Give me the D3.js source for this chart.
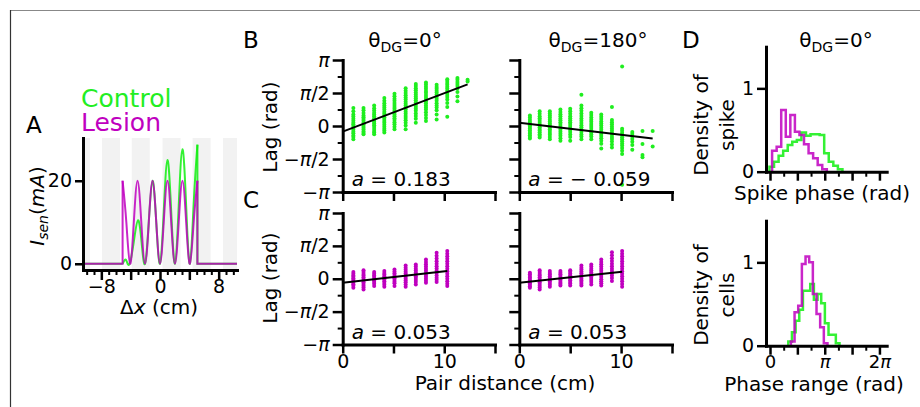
<!DOCTYPE html>
<html>
<head>
<meta charset="utf-8">
<script src="https://cdn.jsdelivr.net/npm/d3@7"></script>
<style>
body { margin: 0; background: #fff; }
svg text { font-family: "DejaVu Sans", sans-serif; }
</style>
</head>
<body>
<svg id="fig" width="920" height="407"></svg>
<script>
"use strict";

const PI = Math.PI;
const GREEN = "#1fee1f";
const PURPLE = "#bf00bf";

// ---- panel A : sensory input current vs position ----
const bandStart = [-12.0, -7.9, -3.85, 0.35, 4.45, 8.6];
const bandEnd = [-9.55, -5.45, -1.4, 2.8, 6.9, 11.05];
const lesionX = [-5.1, -4.59, -4.08, -3.57, -3.06, -2.55, -2.04, -1.53, -1.02, -0.51, 0, 0.51, 1.02, 1.53, 2.04, 2.55, 3.06, 3.57, 4.08, 4.59, 5.1];
const lesionI = [20, 10, 0, 10, 20, 10, 0, 10, 20, 10, 0, 10, 20, 10, 0, 10, 20, 10, 0, 10, 20];
const controlX = [-5.1, -4.75, -4.5, -4.15, -3.6, -3.0, -2.5, -2.04, -1.53, -1.02, -0.51, 0, 0.51, 1.02, 1.53, 2.04, 2.55, 3.06, 3.57, 4.08, 4.59, 5.1];
const controlI = [0, 1.0, 0.4, 0, 5, 10.5, 5, 0, 10, 20, 10, 0, 12.5, 25, 12.5, 0, 13.8, 27.6, 13.8, 0, 14.4, 28.7];

// ---- panels B, C : phase lag vs pair distance ----
const distB0 = [1.05, 2.05, 3.1, 4.1, 5.1, 6.2, 7.2, 8.2, 9.25, 10.3, 11.3, 12.3];
const lagB0 = [
  [0.86, 0.7, 0.55, 0.45, 0.35, 0.25, 0.15, 0.08, 0.0, -0.1, -0.18, -0.27, -0.35, -0.45, -0.52, -0.63],
  [0.86, 0.75, 0.62, 0.5, 0.42, 0.33, 0.25, 0.16, 0.08, 0.0, -0.08, -0.17, -0.26, -0.33, -0.39],
  [0.97, 0.85, 0.74, 0.63, 0.55, 0.46, 0.37, 0.28, 0.2, 0.12, 0.04, -0.05, -0.14, -0.24, -0.31, -0.39],
  [1.33, 1.2, 1.08, 0.97, 0.88, 0.78, 0.68, 0.6, 0.5, 0.42, 0.33, 0.24, 0.15, 0.06, -0.04, -0.13, -0.22, -0.31],
  [1.54, 1.42, 1.3, 1.2, 1.1, 1.0, 0.9, 0.82, 0.73, 0.64, 0.55, 0.46, 0.37, 0.28, 0.18, 0.08, -0.03, -0.16],
  [1.8, 1.68, 1.57, 1.46, 1.36, 1.26, 1.16, 1.06, 0.97, 0.88, 0.78, 0.68, 0.58, 0.48, 0.38, 0.27, 0.15, 0.02, -0.16],
  [2.0, 1.9, 1.8, 1.7, 1.6, 1.5, 1.41, 1.32, 1.22, 1.12, 1.02, 0.92, 0.82, 0.72, 0.6, 0.48, 0.35, 0.16],
  [2.07, 1.97, 1.87, 1.77, 1.67, 1.58, 1.48, 1.38, 1.28, 1.18, 1.08, 0.98, 0.88, 0.78, 0.66, 0.52, 0.38, 0.24],
  [1.96, 1.86, 1.77, 1.68, 1.59, 1.5, 1.4, 1.3, 1.2, 1.08, 0.98, 0.88, 0.75, 0.55, 0.31],
  [2.23, 2.14, 2.05, 1.96, 1.87, 1.78, 1.68, 1.58, 1.48, 1.38, 1.26, 1.1, 0.9, 0.44],
  [2.28, 2.2, 2.1, 2.0, 1.9, 1.78, 1.62, 1.4, 1.18],
  [2.2, 2.12]
];
const fitB0 = [[0, -0.27], [12.3, 1.98]];

const distB180 = [1.04, 2.0, 3.0, 4.04, 5.0, 6.1, 7.07, 8.05, 9.1, 10.1, 11.1, 12.1, 13.1];
const lagB180 = [
  [0.5, 0.4, 0.3, 0.2, 0.12, 0.04, -0.04, -0.12, -0.2, -0.28, -0.36, -0.44, -0.52, -0.6],
  [0.7, 0.58, 0.47, 0.37, 0.28, 0.19, 0.1, 0.02, -0.06, -0.14, -0.22, -0.3, -0.39, -0.47, -0.55],
  [0.7, 0.6, 0.5, 0.4, 0.3, 0.21, 0.12, 0.03, -0.06, -0.15, -0.24, -0.33, -0.42, -0.52, -0.63],
  [0.78, 0.67, 0.56, 0.46, 0.36, 0.27, 0.18, 0.09, 0.0, -0.09, -0.18, -0.27, -0.37, -0.47, -0.58, -0.7],
  [0.82, 0.7, 0.58, 0.47, 0.37, 0.27, 0.18, 0.09, 0.0, -0.09, -0.19, -0.29, -0.4, -0.52, -0.7],
  [1.49, 0.97, 0.85, 0.72, 0.6, 0.48, 0.36, 0.25, 0.14, 0.04, -0.06, -0.17, -0.28, -0.4, -0.5, -0.63],
  [0.63, 0.52, 0.41, 0.3, 0.2, 0.1, 0.0, -0.1, -0.2, -0.3, -0.4, -0.5, -0.63],
  [0.55, 0.44, 0.33, 0.22, 0.12, 0.02, -0.08, -0.18, -0.28, -0.38, -0.48, -0.58, -0.7, -0.85, -1.07],
  [0.91, 0.28, 0.18, 0.08, -0.02, -0.12, -0.22, -0.32, -0.42, -0.52, -0.62, -0.74, -0.88, -1.02],
  [2.83, -0.13, -0.23, -0.33, -0.43, -0.53, -0.63, -0.73, -0.83, -0.93, -1.05, -1.18, -1.33, -2.8],
  [-0.28, -0.38, -0.5, -0.62, -0.75, -0.9, -1.13],
  [-0.24, -0.86, -1.38, -1.49],
  [-0.24, -0.97]
];
const fitB180 = [[0, 0.16], [13.1, -0.6]];

const distC0 = [1.05, 2.05, 3.1, 4.1, 5.1, 6.2, 7.2, 8.2, 9.25, 10.3];
const lagC0 = [
  [0.32, 0.24, 0.16, 0.09, 0.02, -0.05, -0.12, -0.19, -0.26, -0.34, -0.43],
  [0.41, 0.32, 0.23, 0.15, 0.07, -0.01, -0.09, -0.17, -0.25, -0.33, -0.42, -0.51],
  [0.32, 0.24, 0.16, 0.08, 0.0, -0.08, -0.16, -0.24, -0.35],
  [0.37, 0.28, 0.2, 0.12, 0.04, -0.04, -0.12, -0.2, -0.29, -0.38],
  [0.44, 0.35, 0.26, 0.18, 0.1, 0.02, -0.06, -0.14, -0.22, -0.35],
  [0.63, 0.53, 0.43, 0.34, 0.25, 0.16, 0.08, 0.0, -0.08, -0.17, -0.27, -0.38],
  [0.68, 0.58, 0.48, 0.39, 0.3, 0.21, 0.12, 0.03, -0.06, -0.16, -0.27],
  [0.92, 0.8, 0.69, 0.58, 0.48, 0.38, 0.28, 0.18, 0.09, 0.0, -0.09, -0.19],
  [1.24, 1.1, 0.97, 0.84, 0.72, 0.6, 0.49, 0.38, 0.27, 0.16, 0.05, -0.05, -0.16],
  [1.32, 1.2, 1.08, 0.96, 0.84, 0.72, 0.6, 0.48, 0.36, 0.24, 0.12, 0.0, -0.12, -0.24, -0.35]
];
const fitC0 = [[0, -0.19], [10.3, 0.37]];

const distC180 = [1.04, 2.0, 3.0, 4.04, 5.0, 6.1, 7.07, 8.05, 9.1, 10.1];
const lagC180 = [
  [0.29, 0.21, 0.13, 0.06, -0.01, -0.08, -0.15, -0.22, -0.29, -0.36, -0.43],
  [0.41, 0.32, 0.23, 0.15, 0.07, -0.01, -0.09, -0.17, -0.25, -0.33, -0.42, -0.51],
  [0.37, 0.28, 0.2, 0.12, 0.04, -0.04, -0.12, -0.2, -0.29, -0.38],
  [0.37, 0.29, 0.21, 0.13, 0.05, -0.03, -0.11, -0.19, -0.25, -0.32],
  [0.41, 0.33, 0.25, 0.17, 0.09, 0.01, -0.07, -0.15, -0.23, -0.32],
  [0.63, 0.53, 0.44, 0.35, 0.26, 0.17, 0.08, 0.0, -0.08, -0.16, -0.24, -0.32],
  [0.68, 0.58, 0.48, 0.39, 0.3, 0.21, 0.12, 0.03, -0.06, -0.16, -0.27],
  [0.92, 0.8, 0.69, 0.58, 0.48, 0.38, 0.28, 0.18, 0.08, -0.02, -0.12, -0.22, -0.32],
  [1.27, 1.12, 0.98, 0.85, 0.72, 0.6, 0.48, 0.37, 0.26, 0.15, 0.04, -0.11],
  [1.32, 1.2, 1.08, 0.96, 0.84, 0.72, 0.6, 0.48, 0.36, 0.24, 0.12, 0.0, -0.12, -0.25, -0.38]
];
const fitC180 = [[0, -0.19], [10.1, 0.33]];

// ---- panel D : histograms (density) ----
const spikeBinW = PI / 12;
const spikeControlStart = -0.03;
const spikeControl = [0.06, 0.12, 0.19, 0.25, 0.32, 0.36, 0.38, 0.47, 0.43, 0.45, 0.45, 0.44, 0.22, 0.12, 0.07, 0.03];
const spikeLesionStart = 0.12;
const spikeLesion = [0.25, 0.30, 0.74, 0.42, 0.68, 0.48, 0.44, 0.33, 0.22, 0.16, 0.08, 0.03];

const rangeBinW = 0.21;
const rangeControlStart = 1.05;
const rangeControl = [0.05, 0.16, 0.30, 0.43, 0.66, 0.66, 0.74, 0.55, 0.62, 0.51, 0.27, 0.13, 0.13, 0.03];
const rangeLesionStart = 1.2;
const rangeLesion = [0.05, 0.40, 0.48, 0.98, 1.07, 1.0, 0.62, 0.38, 0.22, 0.03];

// tick labels
const lagTicks = [-PI, -PI / 2, 0, PI / 2, PI];
const lagLabels = ["−π", "−π/2", "0", "π/2", "π"];
const lagMinor = [-3 * PI / 4, -PI / 4, PI / 4, 3 * PI / 4];
const phaseTicks = [0, PI / 2, PI, 3 * PI / 2, 2 * PI];
const phaseLabels = ["0", "", "π", "", "2π"];
const phaseMinor = [PI / 4, 3 * PI / 4, 5 * PI / 4, 7 * PI / 4];

const svg = d3.select("#fig");

// frame
svg.append("line").attr("x1", 10.5).attr("x2", 920).attr("y1", 10.5).attr("y2", 10.5)
    .attr("stroke", "#888").attr("stroke-width", 1.2);
svg.append("line").attr("x1", 10.5).attr("x2", 10.5).attr("y1", 10).attr("y2", 407)
    .attr("stroke", "#333").attr("stroke-width", 1.2);

// italic pi inside a text element
function mathify(t, s) {
    s.split(/(π)/).forEach(p => {
        if (!p) return;
        t.append("tspan").attr("font-style", p === "π" ? "italic" : null).text(p);
    });
}

function axis(gen, scale, pos, major, labels, minor, len, pad) {
    if (minor && minor.length) {
        svg.append("g").attr("transform", `translate(${pos[0]},${pos[1]})`)
            .call(gen(scale).tickValues(minor).tickSize(len[1]).tickSizeOuter(0).tickFormat(""))
            .call(g => g.select(".domain").remove())
            .call(g => g.selectAll(".tick line").attr("stroke-width", 2));
    }
    const g = svg.append("g").attr("transform", `translate(${pos[0]},${pos[1]})`)
        .call(gen(scale).tickValues(major).tickSize(len[0]).tickSizeOuter(0)
            .tickPadding(pad === undefined ? 3 : pad)
            .tickFormat((d, i) => labels ? labels[i] : ""));
    g.attr("font-size", 19).attr("font-family", "DejaVu Sans");
    g.select(".domain").attr("stroke-width", 3).attr("stroke-linecap", "square");
    g.selectAll(".tick line").attr("stroke-width", 2.5);
    g.selectAll(".tick text").each(function () {
        const t = d3.select(this);
        const s = t.text();
        t.text(null);
        mathify(t, s);
    });
    return g;
}

function label(x, y, size, opts) {
    const o = opts || {};
    const t = svg.append("text").attr("x", x).attr("y", y).attr("font-size", size)
        .attr("text-anchor", o.anchor || "start").attr("fill", o.fill || "#000");
    if (o.rotate) t.attr("transform", `rotate(-90,${x},${y})`);
    return t;
}

function title(cx, y, val) {
    const t = label(cx, y, 20, { anchor: "middle" });
    t.append("tspan").text("θ");
    t.append("tspan").attr("font-size", 14).attr("dy", 5).text("DG");
    t.append("tspan").attr("dy", -5).text("=" + val + "°");
}

// ================= Panel A =================
const xA = d3.scaleLinear().domain([-10.5, 10.5]).range([83, 237]);
const yA = d3.scaleLinear().domain([-1.5, 30.3]).range([270, 138]);

svg.append("g").selectAll("rect")
    .data(bandStart.map((s, i) => [Math.max(s, -10.5), Math.min(bandEnd[i], 10.5)]))
    .join("rect")
    .attr("x", d => xA(d[0]))
    .attr("width", d => xA(d[1]) - xA(d[0]))
    .attr("y", yA.range()[1])
    .attr("height", yA.range()[0] - yA.range()[1])
    .attr("fill", "#f2f2f2");

const lineA = d3.line().x(d => xA(d[0])).y(d => yA(d[1]));
const waveA = d3.line().curve(d3.curveNatural).x(d => xA(d[0])).y(d => yA(d[1]));

function drawCurrent(xs, ys, color) {
    const n = xs.length - 1;
    const g = svg.append("g").attr("fill", "none").attr("stroke", color)
        .attr("stroke-width", 2).attr("stroke-opacity", 0.85);
    g.append("path").attr("d", lineA([[-10.5, 0], [xs[0], 0], [xs[0], ys[0]]]));
    g.append("path").attr("d", waveA(xs.map((x, i) => [x, ys[i]])));
    g.append("path").attr("d", lineA([[xs[n], ys[n]], [xs[n], 0], [10.5, 0]]));
}
drawCurrent(controlX, controlI, "#11ee11");
drawCurrent(lesionX, lesionI, PURPLE);

axis(d3.axisLeft, yA, [83, 0], [0, 20], ["0", "20"], null, [8, 4]);
axis(d3.axisBottom, xA, [0, 270], [-8, -4, 0, 4, 8], ["−8", "", "0", "", "8"],
    d3.range(-10, 11).filter(v => v % 4 !== 0), [10, 5], 0);

label(81, 107, 25, { fill: "#22ee22" }).text("Control");
label(81, 131, 25, { fill: PURPLE }).text("Lesion");
label(26, 133, 23).text("A");

const ylA = label(44, 206, 20, { anchor: "middle", rotate: true });
ylA.append("tspan").attr("font-style", "italic").text("I");
ylA.append("tspan").attr("font-style", "italic").attr("font-size", 14).attr("dy", 4).text("sen");
ylA.append("tspan").attr("dy", -4).text("(");
ylA.append("tspan").attr("font-style", "italic").text("mA");
ylA.append("tspan").text(")");

const xlA = label(159, 314, 20, { anchor: "middle" });
xlA.append("tspan").text("Δ");
xlA.append("tspan").attr("font-style", "italic").text("x");
xlA.append("tspan").text(" (cm)");

// ================= Panels B, C =================
const xLeft = d3.scaleLinear().domain([0, 15]).range([342.7, 495]);
const xRight = d3.scaleLinear().domain([0, 15]).range([519.3, 672]);
const yB = d3.scaleLinear().domain([-PI, PI]).range([192, 60]);
const yC = d3.scaleLinear().domain([-PI, PI]).range([344.5, 213]);

function lagPanel(x, y, dist, lags, fit, color, showY, showX, slopeText) {
    const pts = [];
    dist.forEach((d, i) => lags[i].forEach(v => pts.push([d, v])));
    svg.append("g").selectAll("circle").data(pts).join("circle")
        .attr("cx", d => x(d[0])).attr("cy", d => y(d[1])).attr("r", 2)
        .attr("fill", color);
    svg.append("path").attr("d", d3.line().x(d => x(d[0])).y(d => y(d[1]))(fit))
        .attr("stroke", "#000").attr("stroke-width", 2).attr("fill", "none");
    axis(d3.axisLeft, y, [x.range()[0], 0], lagTicks, showY ? lagLabels : null, lagMinor, [10, 5]);
    axis(d3.axisBottom, x, [0, y.range()[0]], [0, 5, 10, 15], showX ? ["0", "", "10", ""] : null, null, [9, 5], 1.5);
    const t = label(x.range()[0] + 9, y.range()[0] - 6, 20);
    t.append("tspan").attr("font-style", "italic").text("a");
    t.append("tspan").text(slopeText);
}

lagPanel(xLeft, yB, distB0, lagB0, fitB0, GREEN, true, false, " = 0.183");
lagPanel(xRight, yB, distB180, lagB180, fitB180, GREEN, false, false, " =  − 0.059");
lagPanel(xLeft, yC, distC0, lagC0, fitC0, PURPLE, true, true, " = 0.053");
lagPanel(xRight, yC, distC180, lagC180, fitC180, PURPLE, false, true, " = 0.053");

title(405, 47, "0");
title(598, 47, "180");
label(243, 48, 23).text("B");
label(243, 208, 23).text("C");
label(277, 127, 20, { anchor: "middle", rotate: true }).text("Lag (rad)");
label(277, 278, 20, { anchor: "middle", rotate: true }).text("Lag (rad)");
label(505, 390, 20, { anchor: "middle" }).text("Pair distance (cm)");

// ================= Panel D =================
const xD = d3.scaleLinear().domain([-0.23, 6.7]).range([766, 886.7]);
const yD1 = d3.scaleLinear().domain([0, 1.5]).range([171.7, 46.7]);
const yD2 = d3.scaleLinear().domain([0, 1.5]).range([345.7, 220.7]);

function stepHist(y, start, w, vals, color) {
    const pts = [[start, 0]];
    vals.forEach((v, i) => { pts.push([start + i * w, v]); pts.push([start + (i + 1) * w, v]); });
    pts.push([start + vals.length * w, 0]);
    svg.append("path").attr("d", d3.line().x(d => xD(d[0])).y(d => y(d[1]))(pts))
        .attr("fill", "none").attr("stroke", color).attr("stroke-width", 2.5)
        .attr("stroke-opacity", 0.85).attr("stroke-linejoin", "miter");
}

stepHist(yD1, spikeControlStart, spikeBinW, spikeControl, "#11ee11");
stepHist(yD1, spikeLesionStart, spikeBinW, spikeLesion, PURPLE);
stepHist(yD2, rangeControlStart, rangeBinW, rangeControl, "#11ee11");
stepHist(yD2, rangeLesionStart, rangeBinW, rangeLesion, PURPLE);

axis(d3.axisLeft, yD1, [766, 0], [0, 1], ["0", "1"], null, [9, 5]);
axis(d3.axisBottom, xD, [0, 171.7], phaseTicks, null, phaseMinor, [9, 5]);
axis(d3.axisLeft, yD2, [766, 0], [0, 1], ["0", "1"], null, [9, 5]);
axis(d3.axisBottom, xD, [0, 345.7], phaseTicks, phaseLabels, phaseMinor, [9, 5], 1)
    .attr("font-size", 18);

title(836, 47, "0");
label(682, 48, 23).text("D");
label(822, 200, 20, { anchor: "middle" }).text("Spike phase (rad)");
label(814, 391, 20, { anchor: "middle" }).text("Phase range (rad)");

function twoLineY(x1, x2, cy, a, b) {
    label(x1, cy, 20, { anchor: "middle", rotate: true }).text(a);
    label(x2, cy, 20, { anchor: "middle", rotate: true }).text(b);
}
twoLineY(708, 734, 125, "Density of", "spike");
twoLineY(708, 734, 295, "Density of", "cells");
</script>
</body>
</html>
